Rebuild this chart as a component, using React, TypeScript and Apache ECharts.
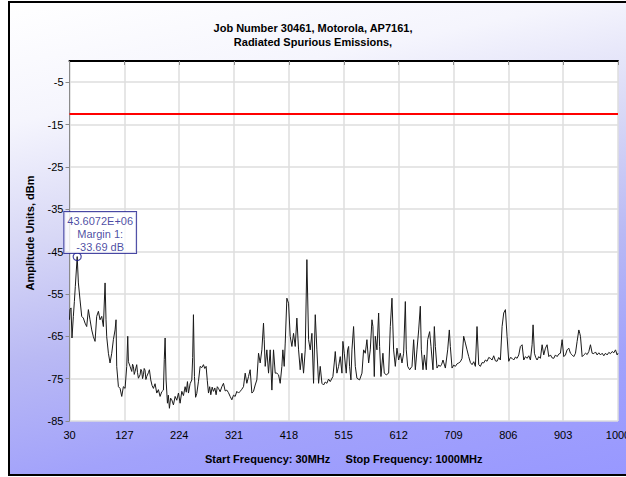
import React, { useEffect, useRef } from "react";
import * as echarts from "echarts";

const FONT = "'Liberation Sans', Arial, sans-serif";

const titleLines = ["Job Number 30461, Motorola, AP7161,", "Radiated Spurious Emissions,"];
const xAxisTitle = "Start Frequency: 30MHz\u00a0\u00a0\u00a0\u00a0\u00a0Stop Frequency: 1000MHz";
const yAxisTitle = "Amplitude Units, dBm";

// x ticks: 30, 127, ..., 1000 (MHz); y ticks: -85 ... -5 (dBm)
const xMin = 30;
const xMax = 1000;
const xStep = 97;
const yMin = -85;
const yMax = 0;
const yStep = 10;

// limit line
const limitFreq = [30, 1000];
const limitLevel = [-12.5, -12.5];

// marker
const markerFreq = 43.6;
const markerLevel = -46.19;
const markerText = ["43.6072E+06", "Margin 1:", "-33.69 dB"];

// measured spectrum, [MHz, dBm]
const spectrum30to130: [number, number][] = [
  [30, -61.1], [30.9, -58.7], [32.7, -58.3], [34.4, -65.4], [36.8, -60.3], [38.6, -56.8], [40.3, -53.2],
  [43.6, -46.19], [45.7, -52.4], [48.6, -56.4], [51.6, -60.3], [54.5, -60.7], [57.5, -61.9], [60.4, -62.7],
  [63.4, -58.7], [66.3, -61.1], [69.3, -63.5], [72.2, -65.1], [75.2, -66.2], [78.1, -60.3], [81.1, -59.1],
  [84.0, -61.1], [87.0, -60.3], [89.9, -62.7], [92.9, -52.4], [94.6, -61.1], [95.8, -65.1], [98.8, -69.0],
  [101.7, -71.3], [104.7, -69.0], [107.6, -65.8], [110.6, -63.5], [112.3, -61.1], [113.5, -72.1],
  [116.5, -76.9], [119.4, -77.3], [122.4, -79.2], [125.3, -76.9], [128.3, -77.3],
];

const spectrum130to255: [number, number][] = [
  [131.2, -72.1], [133.0, -65.0], [134.2, -71.0], [137.1, -72.1], [140.1, -73.3], [141.5, -71.6],
  [143.0, -72.1], [144.5, -74.0], [146.0, -73.3], [148.9, -71.7], [150.3, -73.6], [151.9, -74.9],
  [154.8, -74.1], [156.2, -72.8], [157.7, -73.2], [159.2, -75.0], [160.7, -74.1], [162.1, -72.6],
  [163.6, -73.0], [165.1, -75.2], [166.6, -74.5], [169.5, -73.6], [171.3, -72.9], [173.7, -75.3],
  [176.0, -76.6], [178.4, -77.3], [181.3, -76.2], [184.3, -78.4], [187.2, -77.6], [190.2, -79.2],
  [193.1, -78.1], [196.1, -77.7], [197.6, -70.5], [199.1, -65.4], [200.8, -75.3], [203.2, -80.8],
  [204.8, -78.9], [206.7, -82.0], [208.8, -79.6], [210.9, -80.0], [213.8, -81.2], [216.8, -79.2],
  [219.7, -80.1], [222.7, -78.4], [225.6, -80.8], [228.6, -78.0], [231.5, -79.0], [234.5, -76.9],
  [236.5, -78.2], [238.6, -75.7], [240.4, -78.4], [243.3, -76.2], [246.3, -75.3], [247.8, -70.0],
  [249.2, -59.9], [251.0, -74.5], [253.0, -79.4], [255.1, -78.5],
];

const spectrum255to475: [number, number][] = [
  [258.1, -75.6], [261.0, -72.1], [264.0, -72.4], [266.9, -71.7], [269.2, -72.6], [271.6, -72.1],
  [273.7, -75.5], [275.8, -78.4], [277.9, -76.9], [279.9, -78.8], [282.3, -77.0], [284.6, -78.0],
  [287.0, -77.2], [289.3, -78.8], [291.4, -76.9], [293.5, -77.3], [296.4, -78.1], [299.4, -76.9],
  [302.3, -76.1], [305.3, -77.9], [308.2, -77.7], [311.1, -78.3], [314.1, -79.2], [317.1, -80.0],
  [320.0, -78.9], [323.0, -79.2], [325.9, -78.0], [328.9, -78.4], [331.8, -78.0], [334.8, -77.5],
  [337.7, -76.9], [340.7, -73.7], [343.6, -76.1], [346.6, -74.5], [349.5, -72.9], [352.5, -78.4],
  [355.4, -78.0], [358.4, -76.5], [361.3, -75.3], [364.3, -69.0], [367.2, -71.3], [370.2, -68.2],
  [373.1, -61.9], [374.3, -65.8], [376.1, -72.1], [379.0, -68.2], [382.0, -73.7], [384.9, -68.2],
  [387.9, -77.7], [390.8, -68.2], [393.8, -73.7], [396.7, -73.7], [399.7, -74.1], [402.6, -76.1],
  [405.6, -72.1], [407.3, -68.2], [409.7, -72.1], [411.5, -66.6], [414.4, -56.0], [417.4, -57.2],
  [420.3, -65.0], [423.3, -67.4], [426.2, -64.3], [429.2, -67.4], [432.1, -60.7], [435.1, -68.2],
  [438.0, -72.9], [441.0, -69.0], [443.9, -73.7], [446.9, -68.2], [449.8, -46.9], [452.8, -65.8],
  [455.7, -68.2], [458.7, -64.3], [461.6, -76.1], [464.6, -59.9], [467.5, -68.2], [470.5, -76.1],
  [473.4, -72.1],
];

const spectrum475to720: [number, number][] = [
  [476.4, -76.1], [479.3, -76.5], [482.2, -75.8], [485.2, -76.1], [488.1, -75.1], [491.1, -75.7],
  [495.8, -74.5], [498.2, -71.3], [500.0, -68.6], [502.9, -73.7], [505.9, -72.1], [508.8, -69.8],
  [511.8, -73.7], [513.5, -66.2], [515.9, -69.0], [519.4, -73.7], [521.8, -68.2], [523.6, -67.4],
  [525.3, -72.1], [527.7, -75.3], [529.5, -68.2], [532.4, -62.7], [535.4, -72.1], [538.3, -74.9],
  [543.0, -75.3], [547.2, -73.7], [550.1, -68.2], [553.1, -69.0], [556.0, -65.8], [559.0, -71.3],
  [561.9, -68.2], [564.9, -61.1], [566.6, -62.7], [569.0, -74.5], [570.8, -65.0], [573.7, -68.2],
  [576.7, -59.5], [578.4, -67.4], [580.8, -74.5], [584.3, -69.0], [586.7, -73.7], [590.2, -74.1],
  [594.4, -73.7], [597.3, -62.7], [600.3, -56.0], [603.2, -68.2], [606.2, -72.1], [609.1, -67.8],
  [612.1, -70.6], [615.0, -69.0], [618.0, -71.3], [620.9, -69.0], [623.9, -56.8], [625.6, -68.2],
  [628.0, -72.1], [631.5, -72.9], [635.7, -72.1], [638.6, -65.8], [641.6, -72.9], [644.5, -68.2],
  [647.5, -63.5], [650.4, -57.9], [652.2, -68.2], [655.1, -72.9], [657.5, -69.4], [661.0, -72.9],
  [663.4, -65.8], [666.9, -63.9], [669.3, -67.4], [672.8, -72.9], [675.2, -62.7], [677.0, -67.4],
  [679.9, -72.5], [682.9, -71.8], [685.8, -72.1], [688.2, -71.6], [690.5, -70.6], [694.7, -72.5],
  [698.8, -68.2], [701.7, -63.5], [703.5, -67.4], [706.5, -72.5], [709.5, -71.8], [712.4, -72.1],
  [715.4, -71.5], [718.3, -71.3],
];

const spectrum720to1000: [number, number][] = [
  [721.3, -71.0], [724.2, -70.2], [727.1, -65.0], [730.1, -66.6], [733.0, -68.2], [736.0, -69.8],
  [739.0, -71.2], [741.9, -71.7], [744.9, -71.0], [747.8, -72.1], [750.7, -62.7], [753.7, -71.7],
  [756.6, -72.1], [759.6, -71.2], [762.5, -71.3], [765.5, -70.6], [768.4, -70.9], [771.4, -70.0],
  [774.3, -70.2], [777.3, -70.6], [780.2, -69.6], [783.2, -70.8], [786.1, -70.9], [789.1, -70.0],
  [792.0, -70.6], [795.0, -62.7], [797.9, -59.5], [800.9, -58.7], [803.8, -65.0], [806.8, -70.9],
  [809.8, -70.0], [812.7, -70.2], [815.6, -70.6], [818.6, -69.9], [821.5, -70.2], [824.5, -69.4],
  [827.4, -67.4], [830.4, -67.0], [833.3, -70.6], [836.3, -69.8], [839.2, -70.2], [842.2, -69.6],
  [845.1, -70.6], [848.1, -67.0], [849.8, -62.3], [852.2, -69.0], [854.5, -70.0], [856.9, -70.6],
  [859.9, -69.8], [862.8, -70.2], [865.8, -67.0], [868.7, -69.4], [871.7, -67.8], [874.6, -67.0],
  [877.6, -69.8], [880.5, -69.4], [883.5, -70.1], [886.4, -70.2], [889.4, -69.4], [892.3, -69.8],
  [895.3, -69.2], [898.2, -69.0], [901.2, -65.8], [904.1, -69.8], [907.1, -69.4], [910.0, -68.2],
  [913.0, -67.8], [915.9, -69.0], [918.9, -69.4], [921.8, -69.8], [924.8, -69.0], [927.7, -66.2],
  [930.7, -63.5], [932.4, -64.3], [933.6, -65.0], [936.6, -69.8], [939.5, -69.4], [942.5, -69.0],
  [945.5, -69.3], [948.4, -68.6], [951.3, -67.0], [954.3, -69.0], [957.2, -69.1], [960.2, -68.7],
  [963.1, -69.4], [966.1, -68.9], [969.0, -69.4], [972.0, -69.0], [974.9, -69.6], [977.9, -69.0],
  [980.8, -69.4], [983.8, -68.8], [986.7, -69.1], [989.7, -68.6], [992.6, -68.9], [995.6, -68.2],
  [998.5, -69.4], [1000, -69.0],
];

export default function App() {
  const ref = useRef<HTMLDivElement>(null);

  useEffect(() => {
    if (!ref.current) return;
    const chart = echarts.init(ref.current, null, { renderer: "svg" });
    const spectrum = [
      ...spectrum30to130,
      ...spectrum130to255,
      ...spectrum255to475,
      ...spectrum475to720,
      ...spectrum720to1000,
    ];
    const limitData = limitFreq.map((f, i) => [f, limitLevel[i]]);
    const axisGray = "#8a8a8a";
    const gridGray = "#dedede";
    const navy = "#1a1a8c";

    chart.setOption({
      animation: false,
      backgroundColor: "transparent",
      title: {
        text: titleLines.join("\n"),
        left: "center",
        top: 16,
        textStyle: { fontFamily: FONT, fontSize: 11, fontWeight: "bold", color: "#000", lineHeight: 14 },
      },
      graphic: [
        {
          type: "text",
          x: 30,
          y: 233,
          rotation: Math.PI / 2,
          style: {
            text: yAxisTitle,
            fontFamily: FONT,
            fontSize: 11,
            fontWeight: "bold",
            fill: "#000",
            textAlign: "center",
            textVerticalAlign: "middle",
          },
        },
      ],
      grid: {
        left: 69.5,
        right: 8,
        top: 61,
        bottom: 56,
        show: true,
        backgroundColor: "#fff",
        borderWidth: 0,
        containLabel: false,
        outerBoundsMode: "none",
      },
      xAxis: [
        {
          type: "value",
          min: xMin,
          max: xMax,
          interval: xStep,
          name: xAxisTitle,
          nameLocation: "middle",
          nameGap: 32,
          nameTextStyle: { fontFamily: FONT, fontSize: 11, fontWeight: "bold", color: "#000" },
          axisLine: { lineStyle: { color: axisGray, width: 1 } },
          axisTick: { show: true, length: 4, lineStyle: { color: axisGray } },
          axisLabel: {
            fontFamily: FONT,
            fontSize: 11,
            color: "#000",
            margin: 8,
            showMinLabel: true,
            showMaxLabel: true,
            hideOverlap: false,
            formatter: (v: number) => String(v),
          },
          splitLine: { show: true, lineStyle: { color: gridGray, width: 1.5 } },
        },
        {
          type: "value",
          position: "top",
          min: xMin,
          max: xMax,
          axisLine: { show: true, lineStyle: { color: "#000", width: 2 } },
          axisTick: { show: false },
          axisLabel: { show: false },
          splitLine: { show: false },
        },
      ],
      yAxis: {
        type: "value",
        min: yMin,
        max: yMax,
        interval: yStep,
        axisLine: { show: true, lineStyle: { color: axisGray, width: 1 } },
        axisTick: { show: true, length: 4, lineStyle: { color: axisGray } },
        axisLabel: {
          fontFamily: FONT,
          fontSize: 11,
          color: "#000",
          margin: 6,
          showMaxLabel: false,
          formatter: (v: number) => String(v),
        },
        splitLine: { show: true, lineStyle: { color: gridGray, width: 1.5 } },
      },
      series: [
        {
          type: "line",
          data: spectrum,
          symbol: "none",
          lineStyle: { color: "#1a1a1a", width: 1 },
          z: 3,
        },
        {
          type: "line",
          data: limitData,
          symbol: "none",
          lineStyle: { color: "#ff0000", width: 2 },
          z: 4,
        },
        {
          type: "scatter",
          data: [[markerFreq, markerLevel]],
          symbol: "circle",
          symbolSize: 8,
          itemStyle: { color: "rgba(255,255,255,0)", borderColor: navy, borderWidth: 1.2 },
          clip: false,
          z: 6,
          label: {
            show: true,
            position: "top",
            distance: -1,
            offset: [23, 0],
            formatter: markerText.join("\n"),
            fontFamily: FONT,
            fontSize: 11,
            lineHeight: 13,
            color: navy,
            align: "center",
            backgroundColor: "#ffffff",
            borderColor: navy,
            borderWidth: 1,
            padding: [2, 3, 0, 3],
          },
        },
      ],
    });

    return () => chart.dispose();
  }, []);

  return (
    <div style={{ position: "absolute", left: 0, top: 0, width: 626, height: 477, overflow: "hidden", background: "#fff" }}>
      <div
        style={{
          position: "absolute",
          left: 8,
          top: 1,
          width: 618,
          height: 475,
          boxSizing: "border-box",
          borderLeft: "2px solid #000",
          borderTop: "2px solid #000",
          borderBottom: "2px solid #000",
          background:
            "linear-gradient(168deg, #ffffff 0%, #f5f5fd 20%, #d8d8f6 40%, #b9b9f4 60%, #a2a2fb 80%, #9898ff 100%)",
        }}
      />
      <div ref={ref} style={{ position: "absolute", left: 0, top: 0, width: 626, height: 477 }} />
    </div>
  );
}
